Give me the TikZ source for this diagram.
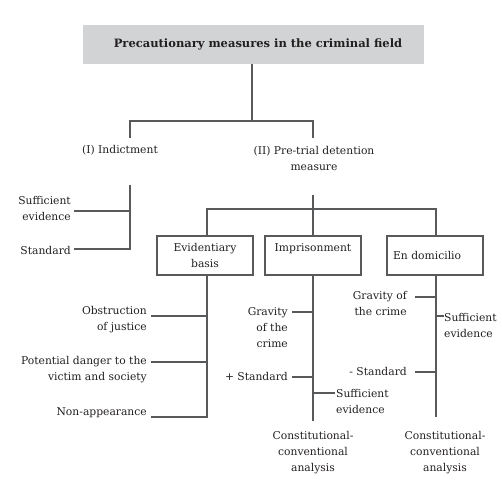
\documentclass[tikz,border=0pt]{standalone}
\usepackage{fontspec}
\setmainfont{DejaVu Serif}
\definecolor{ln}{HTML}{58595B}
\definecolor{tx}{HTML}{231F20}
\definecolor{tb}{HTML}{D1D3D4}
\begin{document}
\begin{tikzpicture}[x=1pt,y=-1pt,
  every node/.style={text=tx,font=\fontsize{10.75}{16}\selectfont},
  conn/.style={draw=ln,line width=2pt},
  lblr/.style={inner sep=0pt,align=right,anchor=east},
  lbll/.style={inner sep=0pt,align=left,anchor=west},
  lblc/.style={inner sep=0pt,align=center},
  box/.style={draw=ln,line width=2pt,minimum width=96pt,minimum height=39pt,inner sep=0pt,align=center},
  titlebox/.style={fill=tb,minimum width=341pt,minimum height=39pt,inner sep=0pt}]
\useasboundingbox (0,0) rectangle (502,487);
% title
\node[titlebox] (title) at (253.5,44.5) {\hspace*{9pt}\fontsize{11.5}{15}\selectfont\bfseries Precautionary measures in the criminal field};
% level 1
\node[lblc] (ind) at (120,150) {(I) Indictment};
\node[lblc] (pre) at (314,158.5) {(II) Pre-trial detention\\measure};
% boxes
\node[box] (evid) at (205,255.5) {Evidentiary\\basis};
\node[box] (impr) at (313,255.5) {Imprisonment\\\mbox{}};
\node[box,text width=84pt,align=left,inner xsep=6pt] (endo) at (435,255.5) {En domicilio};
% indictment labels
\node[lblr] (suff1) at (71,208.7) {Sufficient\\evidence};
\node[lblr] (std1) at (71,250) {Standard};
% evidentiary labels
\node[lblr] (obs) at (147,319.5) {Obstruction\\of justice};
\node[lblr] (pot) at (147,370) {Potential danger to the\\victim and society};
\node[lblr] (non) at (147,413) {Non-appearance};
% imprisonment labels
\node[lblr] (grav1) at (288,327.5) {Gravity\\of the\\crime};
\node[lblr] (std2) at (288,376) {+ Standard};
\node[lbll] (suff2) at (336,401.5) {Sufficient\\evidence};
\node[lblc] (const1) at (313,453) {Constitutional-\\conventional\\analysis};
% en domicilio labels
\node[lblr] (grav2) at (407,303) {Gravity of\\the crime};
\node[lblr] (std3) at (407,371) {- Standard};
\node[lbll] (suff3) at (444,325) {Sufficient\\evidence};
\node[lblc] (const2) at (445,453) {Constitutional-\\conventional\\analysis};
% junction coordinates
\coordinate (j0) at (252,121);
\coordinate (jL) at (130,121);
\coordinate (jR) at (313,121);
\coordinate (jLb) at (130,138);
\coordinate (jRb) at (313,138);
\coordinate (iTop) at (130,185);
\coordinate (iS) at (130,211);
\coordinate (iB) at (130,249);
\coordinate (pTop) at (313,195);
\coordinate (pJ) at (313,209);
\coordinate (pL) at (207,209);
\coordinate (pR) at (436,209);
\coordinate (eV) at (207,275);
\coordinate (eO) at (207,316);
\coordinate (eP) at (207,362);
\coordinate (eB) at (207,417);
\coordinate (mG) at (313,312);
\coordinate (mS) at (313,377);
\coordinate (mF) at (313,393);
\coordinate (mB) at (313,421);
\coordinate (dG) at (436,297);
\coordinate (dF) at (436,316);
\coordinate (dS) at (436,372);
\coordinate (dB) at (436,417);
% leaf ends
\coordinate (iSe) at (74,211);
\coordinate (iBe) at (74,249);
\coordinate (eOe) at (151,316);
\coordinate (ePe) at (151,362);
\coordinate (eBe) at (151,417);
\coordinate (mGe) at (292,312);
\coordinate (mSe) at (292,377);
\coordinate (mFe) at (335,393);
\coordinate (dGe) at (415,297);
\coordinate (dSe) at (415,372);
\coordinate (dFe) at (444,316);
% connectors
\draw[conn] (title.south -| j0) -- (j0);
\draw[conn] (jLb) -- (jL) -- (jR) -- (jRb);
\draw[conn] (iTop) -- (iB) -- (iBe);
\draw[conn] (iS) -- (iSe);
\draw[conn] (pTop) -- (impr.north);
\draw[conn] (evid.north -| pL) -- (pL) -- (pR) -- (endo.north -| pR);
\draw[conn] (evid.south -| eV) -- (eB) -- (eBe);
\draw[conn] (eO) -- (eOe);
\draw[conn] (eP) -- (ePe);
\draw[conn] (impr.south) -- (mB);
\draw[conn] (mG) -- (mGe);
\draw[conn] (mS) -- (mSe);
\draw[conn] (mF) -- (mFe);
\draw[conn] (endo.south -| dB) -- (dB);
\draw[conn] (dG) -- (dGe);
\draw[conn] (dS) -- (dSe);
\draw[conn] (dF) -- (dFe);
\end{tikzpicture}
\end{document}
